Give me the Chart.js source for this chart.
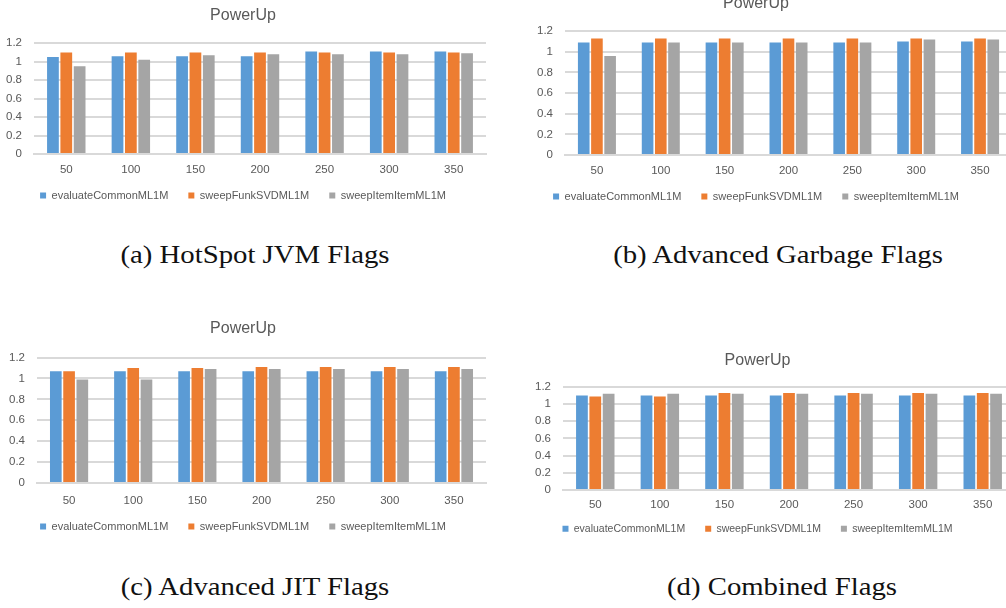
<!DOCTYPE html>
<html>
<head>
<meta charset="utf-8">
<script src="https://cdn.jsdelivr.net/npm/chart.js@4.4.0/dist/chart.umd.min.js"></script>
<style>
  html, body { margin: 0; padding: 0; background: #ffffff; width: 1006px; height: 608px; overflow: hidden; position: relative; }
  .box { position: absolute; }
  .cap { position: absolute; font-family: "Liberation Serif", serif; font-size: 25px; color: #111; white-space: nowrap; transform: translateX(-50%) scaleX(1.15); line-height: 1; }
</style>
</head>
<body>
<div class="box" id="ba" style="left:0px; top:0px; width:500px; height:211px;"><canvas id="ca"></canvas></div>
<div class="box" id="bb" style="left:500px; top:-12px; width:520px; height:224px;"><canvas id="cb"></canvas></div>
<div class="box" id="bc" style="left:0px; top:310px; width:500px; height:232px;"><canvas id="cc"></canvas></div>
<div class="box" id="bd" style="left:500px; top:340px; width:520px; height:204px;"><canvas id="cd"></canvas></div>

<div class="cap" style="left:255px; top:242px;">(a) HotSpot JVM Flags</div>
<div class="cap" style="left:778px; top:242px;">(b) Advanced Garbage Flags</div>
<div class="cap" style="left:255px; top:574px;">(c) Advanced JIT Flags</div>
<div class="cap" style="left:782px; top:574px;">(d) Combined Flags</div>

<script>
const categories = ["50", "100", "150", "200", "250", "300", "350"];
const seriesNames = ["evaluateCommonML1M", "sweepFunkSVDML1M", "sweepItemItemML1M"];
const yTicks = [0, 0.2, 0.4, 0.6, 0.8, 1, 1.2];

// (a) HotSpot JVM Flags
const a_evaluate = [1.05, 1.06, 1.06, 1.06, 1.11, 1.11, 1.11];
const a_funk     = [1.10, 1.10, 1.10, 1.10, 1.10, 1.10, 1.10];
const a_item     = [0.95, 1.02, 1.07, 1.08, 1.08, 1.08, 1.09];
// (b) Advanced Garbage Flags
const b_evaluate = [1.09, 1.09, 1.09, 1.09, 1.09, 1.10, 1.10];
const b_funk     = [1.13, 1.13, 1.13, 1.13, 1.13, 1.13, 1.13];
const b_item     = [0.96, 1.09, 1.09, 1.09, 1.09, 1.12, 1.12];
// (c) Advanced JIT Flags
const c_evaluate = [1.07, 1.07, 1.07, 1.07, 1.07, 1.07, 1.07];
const c_funk     = [1.07, 1.10, 1.10, 1.11, 1.11, 1.11, 1.11];
const c_item     = [0.99, 0.99, 1.09, 1.09, 1.09, 1.09, 1.09];
// (d) Combined Flags
const d_evaluate = [1.10, 1.10, 1.10, 1.10, 1.10, 1.10, 1.10];
const d_funk     = [1.09, 1.09, 1.13, 1.13, 1.13, 1.13, 1.13];
const d_item     = [1.12, 1.12, 1.12, 1.12, 1.12, 1.12, 1.12];

const colors = ["#5B9BD5", "#ED7D31", "#A5A5A5"];
const textColor = "#595959";
const gridColor = "#D9D9D9";
const FONT = "'Liberation Sans', Arial, sans-serif";

// let the category labels draw outside the (deliberately short) x-axis box
const noLabelClip = {
  id: 'noLabelClip',
  beforeDraw(chart) {
    Object.values(chart.scales).forEach(s => { s._computeLabelArea = () => undefined; });
  }
};

function makeChart(id, data, cfg) {
  const ctx = document.getElementById(id);
  return new Chart(ctx, {
    type: 'bar',
    plugins: [noLabelClip],
    data: {
      labels: categories,
      datasets: data.map((d, i) => ({
        label: seriesNames[i],
        data: d,
        backgroundColor: colors[i],
        borderWidth: 0,
        barPercentage: 0.88,
        categoryPercentage: 0.62
      }))
    },
    options: {
      responsive: true,
      maintainAspectRatio: false,
      animation: false,
      devicePixelRatio: 1,
      layout: { padding: { left: 0, right: cfg.padRight, top: 0, bottom: 0 } },
      plugins: {
        title: {
          display: true, text: 'PowerUp', color: textColor,
          font: { family: FONT, size: 16, weight: 'normal' },
          padding: { top: cfg.titleTop, bottom: cfg.titleBottom }
        },
        legend: {
          position: 'bottom',
          labels: {
            color: textColor, boxWidth: 6, boxHeight: 6, padding: cfg.legendPad,
            font: { family: FONT, size: cfg.legendSize }
          }
        },
        tooltip: { enabled: false }
      },
      scales: {
        x: {
          grid: { display: false, drawTicks: false },
          border: { display: true, color: gridColor, width: 2 },
          ticks: { color: textColor, font: { family: FONT, size: 11.5 }, padding: cfg.xPad, maxRotation: 0 },
          afterFit: s => { s.height = cfg.xHeight; }
        },
        y: {
          min: 0, max: 1.2,
          afterBuildTicks: s => { s.ticks = yTicks.map(v => ({ value: v })); },
          grid: { color: gridColor, lineWidth: 2, drawTicks: false },
          border: { display: false },
          ticks: { color: textColor, font: { family: FONT, size: 11.5 }, padding: cfg.yPad, autoSkip: false,
                   callback: v => String(v) },
          afterFit: s => { s.width = cfg.yWidth; }
        }
      }
    }
  });
}

makeChart('ca', [a_evaluate, a_funk, a_item],
  { padRight: 14, titleTop: 6, titleBottom: 18, legendPad: 20, legendSize: 11, xPad: 9, xHeight: 16, yPad: 12, yWidth: 34 });
makeChart('cb', [b_evaluate, b_funk, b_item],
  { padRight: 8, titleTop: 6, titleBottom: 18, legendPad: 20, legendSize: 11, xPad: 9, xHeight: 16, yPad: 12, yWidth: 65 });
makeChart('cc', [c_evaluate, c_funk, c_item],
  { padRight: 14, titleTop: 9.4, titleBottom: 19, legendPad: 20, legendSize: 11, xPad: 11, xHeight: 18, yPad: 12, yWidth: 37 });
makeChart('cd', [d_evaluate, d_funk, d_item],
  { padRight: 5, titleTop: 11.4, titleBottom: 16.4, legendPad: 20, legendSize: 10.5, xPad: 8, xHeight: 13.6, yPad: 12, yWidth: 63 });
</script>
</body>
</html>
